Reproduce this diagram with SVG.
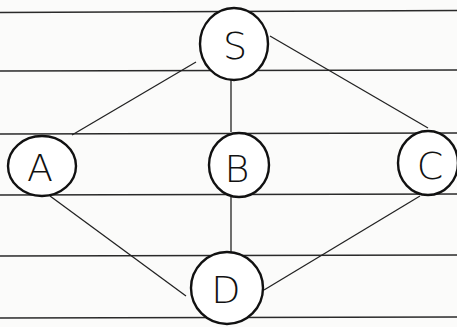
<svg xmlns="http://www.w3.org/2000/svg" width="457" height="327" viewBox="0 0 457 327">
<style>
.rule{stroke:#2a2a2a;stroke-width:1.6;fill:none}
.edge{stroke:#222;stroke-width:1.3;fill:none}
.node ellipse{fill:#fff;stroke:#111;stroke-width:2.4}
.node text{font-family:"DejaVu Sans","Liberation Sans",sans-serif;font-size:38px;fill:#111;text-anchor:middle;font-weight:300}
</style>
<rect width="457" height="327" fill="#fbfbfa"/>
<g id="paper-lines">
<line class="rule" x1="0" y1="12.5" x2="457" y2="10.5"/>
<line class="rule" x1="0" y1="71" x2="457" y2="70"/>
<line class="rule" x1="0" y1="134" x2="457" y2="133"/>
<line class="rule" x1="0" y1="195" x2="457" y2="194"/>
<line class="rule" x1="0" y1="256" x2="457" y2="255"/>
<line class="rule" x1="0" y1="318" x2="457" y2="317"/>
</g>
<g id="connectors">
<line class="edge" x1="196" y1="62" x2="72" y2="135"/>
<line class="edge" x1="231" y1="80" x2="231" y2="132"/>
<line class="edge" x1="270" y1="36" x2="428" y2="128"/>
<line class="edge" x1="231" y1="197" x2="231" y2="252"/>
<line class="edge" x1="50" y1="196" x2="186" y2="296"/>
<line class="edge" x1="420" y1="196" x2="264" y2="290"/>
</g>
<g id="node-S" class="node"><ellipse cx="234" cy="44" rx="34" ry="36"/><text x="235" y="59">S</text></g>
<g id="node-A" class="node"><ellipse cx="42" cy="166" rx="34" ry="30"/><text x="40" y="181">A</text></g>
<g id="node-B" class="node"><ellipse cx="239" cy="165" rx="30" ry="32"/><text x="237" y="182">B</text></g>
<g id="node-C" class="node"><ellipse cx="428" cy="163" rx="30" ry="32"/><text x="430" y="179">C</text></g>
<g id="node-D" class="node"><ellipse cx="227" cy="288" rx="36" ry="36"/><text x="226" y="303">D</text></g>
</svg>
